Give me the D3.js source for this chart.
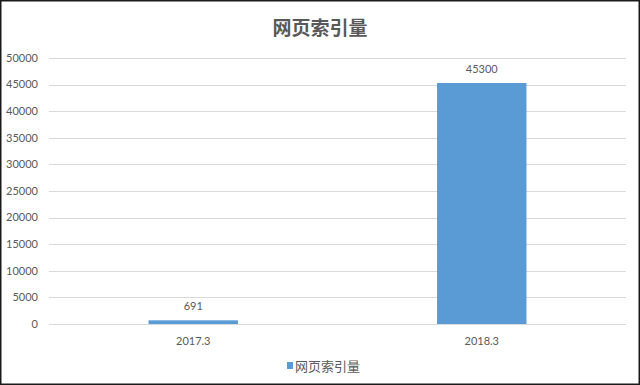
<!DOCTYPE html>
<html>
<head>
<meta charset="utf-8">
<script src="https://cdn.jsdelivr.net/npm/d3@7"></script>
<style>
  body { margin: 0; background: #fff; }
  text { font-family: Lato, "Noto Sans CJK SC", sans-serif; fill: #595959; }
</style>
</head>
<body>
<div id="chart"></div>
<script>
// chart data
const categories = ["2017.3", "2018.3"];
const values = [691, 45300];
const yTicks = [0, 5000, 10000, 15000, 20000, 25000, 30000, 35000, 40000, 45000, 50000];
const title = "网页索引量";
const seriesName = "网页索引量";

const W = 640, H = 385;
const margin = { top: 58, right: 14, bottom: 61, left: 49 };

const svg = d3.select("#chart").append("svg")
    .attr("width", W)
    .attr("height", H);

svg.append("rect")
    .attr("x", 0.75).attr("y", 0.75)
    .attr("width", W - 1.5).attr("height", H - 1.5)
    .attr("fill", "#fff")
    .attr("stroke", "#1a1a1a")
    .attr("stroke-width", 1.5);

const x = d3.scaleBand()
    .domain(categories)
    .range([margin.left, W - margin.right])
    .paddingInner(0.69)
    .paddingOuter(0.345);

const y = d3.scaleLinear()
    .domain([0, 50000])
    .range([H - margin.bottom, margin.top]);

// gridlines
svg.append("g")
    .selectAll("line")
    .data(yTicks)
    .enter()
    .append("line")
    .attr("x1", margin.left)
    .attr("x2", W - margin.right)
    .attr("y1", d => Math.round(y(d)) + 0.5)
    .attr("y2", d => Math.round(y(d)) + 0.5)
    .style("stroke", "#d9d9d9")
    .style("stroke-width", 1);

// y labels
svg.append("g")
    .selectAll("text")
    .data(yTicks)
    .enter()
    .append("text")
    .attr("x", margin.left - 11)
    .attr("y", d => y(d))
    .attr("dy", "0.35em")
    .attr("text-anchor", "end")
    .style("font-size", "11px")
    .text(d => d);

// bars
svg.append("g")
    .selectAll("rect")
    .data(values)
    .enter()
    .append("rect")
    .attr("x", (d, i) => x(categories[i]))
    .attr("width", x.bandwidth())
    .attr("y", d => y(d))
    .attr("height", d => y(0) - y(d))
    .style("fill", "#5b9bd5");

// value labels
svg.append("g")
    .selectAll("text")
    .data(values)
    .enter()
    .append("text")
    .attr("x", (d, i) => x(categories[i]) + x.bandwidth() / 2)
    .attr("y", d => y(d) - 10)
    .attr("text-anchor", "middle")
    .style("font-size", "11px")
    .text(d => d);

// x labels
svg.append("g")
    .selectAll("text")
    .data(categories)
    .enter()
    .append("text")
    .attr("x", d => x(d) + x.bandwidth() / 2)
    .attr("y", y(0) + 21)
    .attr("text-anchor", "middle")
    .style("font-size", "11px")
    .text(d => d);

// title
svg.append("text")
    .attr("x", W / 2)
    .attr("y", 35)
    .attr("text-anchor", "middle")
    .style("font-size", "19px")
    .style("font-weight", "bold")
    .style("font-family", "'Noto Sans CJK SC', sans-serif")
    .text(title);

// legend
const legend = svg.append("g").attr("transform", "translate(287, 366)");
legend.append("rect")
    .attr("x", 0).attr("y", -4)
    .attr("width", 6).attr("height", 7)
    .style("fill", "#5b9bd5");
legend.append("text")
    .attr("x", 8)
    .attr("y", 0)
    .attr("dy", "0.35em")
    .style("font-size", "13px")
    .style("font-family", "'Noto Sans CJK SC', sans-serif")
    .text(seriesName);
</script>
</body>
</html>
